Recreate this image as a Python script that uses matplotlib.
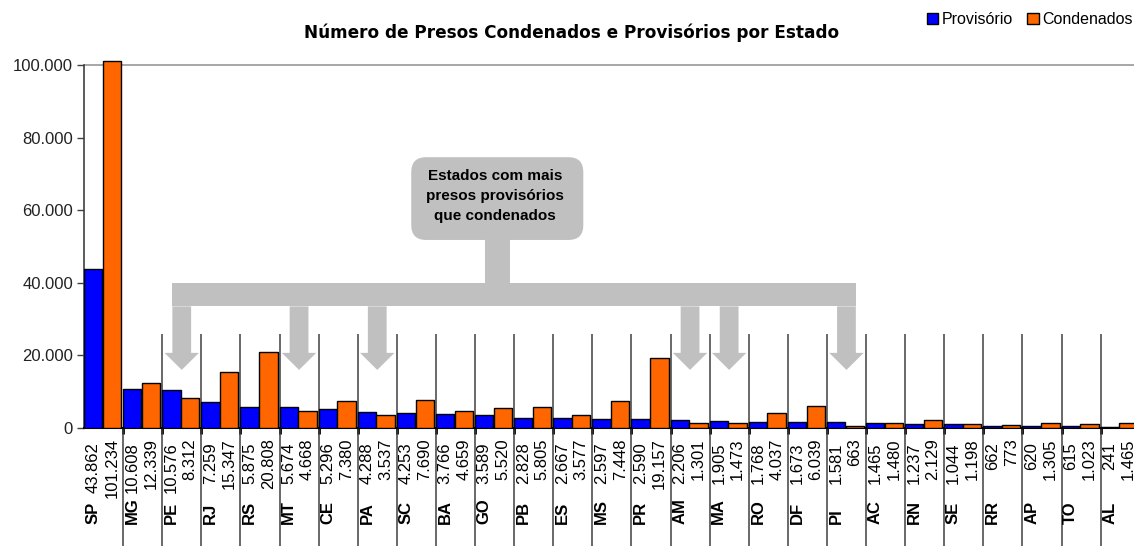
import numpy as np
import matplotlib.pyplot as plt
from matplotlib.patches import Polygon, Rectangle, FancyBboxPatch
from matplotlib.transforms import blended_transform_factory

# dados
estados = ['SP', 'MG', 'PE', 'RJ', 'RS', 'MT', 'CE', 'PA', 'SC', 'BA', 'GO', 'PB', 'ES', 'MS',
           'PR', 'AM', 'MA', 'RO', 'DF', 'PI', 'AC', 'RN', 'SE', 'RR', 'AP', 'TO', 'AL']
provisorio = [43862, 10608, 10576, 7259, 5875, 5674, 5296, 4288, 4253, 3766, 3589, 2828, 2667, 2597,
              2590, 2206, 1905, 1768, 1673, 1581, 1465, 1237, 1044, 662, 620, 615, 241]
condenados = [101234, 12339, 8312, 15347, 20808, 4668, 7380, 3537, 7690, 4659, 5520, 5805, 3577, 7448,
              19157, 1301, 1473, 4037, 6039, 663, 1480, 2129, 1198, 773, 1305, 1023, 1465]
y_ticks = [0, 20000, 40000, 60000, 80000, 100000]
titulo = 'Número de Presos Condenados e Provisórios por Estado'
nota = 'Estados com mais\npresos provisórios\nque condenados'

AZUL = '#0000FF'
LARANJA = '#FF6600'
CINZA = '#C0C0C0'
FONTE = 'Liberation Sans'


def br(v):
    return f'{v:,}'.replace(',', '.')


W, H = 1134, 546
fig = plt.figure(figsize=(W / 100, H / 100), dpi=100)


def fy(px):
    # pixel row -> figure fraction
    return 1 - px / H


# plot area: category width 39.1 px, y scale 0.00363 px per unit
ymax = 102000
ax = fig.add_axes([84.0 / W, fy(428), 27 * 39.1 / W, ymax * 0.00363 / H])
n = len(estados)
x = np.arange(n)

ax.bar(x - 0.265, provisorio, 0.47, color=AZUL, edgecolor='black', linewidth=1.0,
       label='Provisório', zorder=3)
ax.bar(x + 0.215, condenados, 0.47, color=LARANJA, edgecolor='black', linewidth=1.0,
       label='Condenados', zorder=3)

ax.set_xlim(-0.5, n - 0.5)
ax.set_ylim(0, ymax)
ax.axhline(100000, color='#A0A0A0', lw=1.3, zorder=1)

for s in ['top', 'right']:
    ax.spines[s].set_visible(False)
ax.spines['left'].set_bounds(0, 100000)
ax.spines['left'].set_color('#404040')
ax.spines['left'].set_linewidth(1.2)
ax.spines['bottom'].set_color('black')
ax.spines['bottom'].set_linewidth(1.5)

ax.set_yticks(y_ticks)
ax.set_yticklabels([br(v) for v in y_ticks], family=FONTE, fontsize=12)
ax.tick_params(axis='y', length=5, width=1, pad=3, colors='#404040', labelcolor='#222222')

limites = np.arange(0.5, n - 0.5, 1)
ax.set_xticks([])
ax.set_xticks(limites, minor=True)
ax.tick_params(axis='x', which='minor', length=4, width=2, colors='black')

# separadores entre categorias
ax.vlines(limites, -33000, 0, color='#404040', lw=1.1, clip_on=False, zorder=2)
ax.vlines(limites[1:], 0, 26000, color='#404040', lw=1.1, clip_on=False, zorder=2)

# rotulos das categorias
tr = blended_transform_factory(ax.transData, fig.transFigure)
for i in range(n):
    ax.text(i - 0.265, fy(524), estados[i], transform=tr, rotation=90, rotation_mode='anchor',
            ha='left', va='center', family=FONTE, fontsize=12, fontweight='bold')
    ax.text(i - 0.265, fy(442), br(provisorio[i]), transform=tr, rotation=90,
            rotation_mode='anchor', ha='right', va='center', family=FONTE, fontsize=12)
    ax.text(i + 0.215, fy(438), br(condenados[i]), transform=tr, rotation=90,
            rotation_mode='anchor', ha='right', va='center', family=FONTE, fontsize=12)

# anotacao: estados com mais provisorios que condenados
alvo = [i for i in range(n) if provisorio[i] > condenados[i]]
haste, cabeca = 0.24, 0.44
topo, base, ini_cab, ponta = 40000, 33500, 20700, 16000
ax.add_patch(Rectangle((alvo[0] - haste, base), alvo[-1] - alvo[0] + 2 * haste, topo - base,
                       fc=CINZA, ec='none', zorder=5))
for i in alvo:
    ax.add_patch(Polygon([(i - haste, base), (i + haste, base), (i + haste, ini_cab),
                          (i + cabeca, ini_cab), (i, ponta), (i - cabeca, ini_cab),
                          (i - haste, ini_cab)], closed=True, fc=CINZA, ec='none', zorder=5))
cx = 10.07
ax.add_patch(Rectangle((cx - 0.32, topo - 100), 0.64, 52500 - topo, fc=CINZA, ec='none', zorder=5))
ax.add_patch(FancyBboxPatch((cx - 2.2, 51800), 4.4, 74600 - 51800,
                            boxstyle='round,pad=0,rounding_size=0.38', mutation_aspect=10770,
                            fc=CINZA, ec='none', zorder=5))
ax.text(cx - 0.05, 63800, nota, ha='center', va='center', family=FONTE, fontsize=11,
        fontweight='bold', linespacing=1.55, zorder=6)

fig.text(572 / W, fy(33), titulo, ha='center', va='center', fontsize=12.2, fontweight='bold',
         family='DejaVu Sans')

fig.legend(loc='upper right', bbox_to_anchor=(1133 / W, fy(12)), ncol=2, frameon=False,
           prop={'family': FONTE, 'size': 11.5}, handlelength=0.7, handleheight=0.7,
           handletextpad=0.25, columnspacing=0.9, borderaxespad=0, borderpad=0)

fig.savefig('out.png', dpi=100)
